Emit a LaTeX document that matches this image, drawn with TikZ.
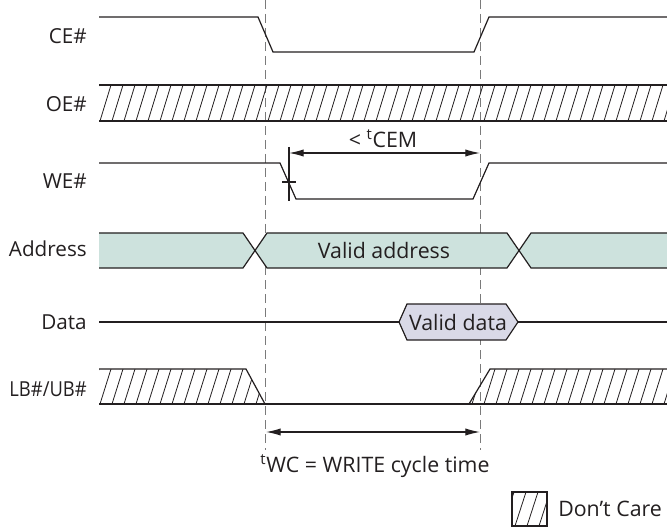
\documentclass[tikz,border=0pt]{standalone}
\usepackage{fontspec}
\usepackage{graphicx}
\setmainfont{Open Sans}
\usetikzlibrary{arrows.meta}
\definecolor{ink}{HTML}{231F20}
\definecolor{addrfill}{HTML}{CDE2DD}
\definecolor{datafill}{HTML}{D9D9E7}
\definecolor{dashc}{HTML}{7A7A7A}
\begin{document}
\begin{tikzpicture}[x=0.75pt,y=-0.75pt,
  sig/.style={draw=ink, line width=0.9pt, line join=miter},
  hatchline/.style={draw=ink, line width=0.6pt},
  guide/.style={draw=dashc, line width=0.75pt, dash pattern=on 6.5pt off 4pt},
  lbl/.style={text=ink, font=\fontsize{15.5}{18}\selectfont, anchor=east, inner sep=0pt},
  txt/.style={text=ink, font=\fontsize{16}{18}\selectfont, inner sep=0pt},
  dim/.style={draw=ink, line width=0.9pt, {Latex[length=11pt,width=5.5pt]}-{Latex[length=11pt,width=5.5pt]}}]
\useasboundingbox (0,0) rectangle (667,527);

% guide lines
\coordinate (g1t) at (265,0);
\coordinate (g1b) at (265,450);
\coordinate (g2t) at (480,0);
\coordinate (g2b) at (480,450);
\draw[guide] (g1t) -- (g1b);
\draw[guide] (g2t) -- (g2b);

% labels
\node[lbl] (lce) at (87,36) {CE\#};
\node[lbl] (loe) at (87,104) {OE\#};
\node[lbl] (lwe) at (87,181) {WE\#};
\node[lbl] (lad) at (87,249) {Address};
\node[lbl] (lda) at (87,322) {Data};
\node[lbl] (llb) at (87,389) {\resizebox{58pt}{\height}{LB\#/UB\#}};

% CE#
\draw[sig] (99,17) -- (258,17) -- (273,52) -- (474,52) -- (489,17) -- (667,17);

% OE# hatch band
\begin{scope}
  \clip (99,85) rectangle (667,121);
  \foreach \i in {0,...,50} \draw[hatchline] (88+12*\i,121) -- (99+12*\i,85);
\end{scope}
\draw[sig] (99,85) -- (667,85);
\draw[sig] (99,121) -- (667,121);

% WE#
\draw[sig] (99,163) -- (280,163) -- (296,199) -- (473,199) -- (489,163) -- (667,163);

% tCEM
\coordinate (cemL) at (289,153);
\coordinate (cemR) at (480,153);
\draw[sig] (289,147) -- (289,201);
\draw[sig] (282,182) -- (296,182);
\draw[dim] (cemL) -- (cemR);
\node[txt] (lcem) at (383,139) {< \textsuperscript{t}CEM};

% Address
\fill[addrfill] (99,233) -- (243,233) -- (255,250.5) -- (243,268) -- (99,268) -- cycle;
\draw[sig] (99,233) -- (243,233) -- (255,250.5) -- (243,268) -- (99,268);
\filldraw[sig, fill=addrfill] (255,250.5) -- (267,233) -- (507,233) -- (519,250.5) -- (507,268) -- (267,268) -- cycle;
\fill[addrfill] (519,250.5) -- (531,233) -- (667,233) -- (667,268) -- (531,268) -- cycle;
\draw[sig] (667,233) -- (531,233) -- (519,250.5) -- (531,268) -- (667,268);
\node[txt] (vaddr) at (384,250) {Valid address};

% Data
\draw[sig] (99,322) -- (399,322);
\filldraw[sig, fill=datafill] (399,322) -- (407,304) -- (506,304) -- (518,322) -- (506,340) -- (407,340) -- cycle;
\draw[sig] (518,322) -- (667,322);
\node[txt] (vdata) at (458,322) {Valid data};

% LB#/UB#
\begin{scope}
  \clip (99,369) -- (246,369) -- (265,404) -- (99,404) -- cycle;
  \foreach \i in {0,...,15} \draw[hatchline] (88+12*\i,404) -- (99+12*\i,369);
\end{scope}
\begin{scope}
  \clip (469,404) -- (490,369) -- (667,369) -- (667,404) -- cycle;
  \foreach \i in {0,...,20} \draw[hatchline] (460+12*\i,404) -- (471+12*\i,369);
\end{scope}
\draw[sig] (99,369) -- (246,369) -- (265,404);
\draw[sig] (469,404) -- (490,369) -- (667,369);
\draw[sig] (99,404) -- (667,404);

% tWC
\coordinate (wcL) at (266,432);
\coordinate (wcR) at (480,432);
\draw[dim] (wcL) -- (wcR);
\node[txt] (lwc) at (375,466) {\textsuperscript{t}WC = WRITE cycle time};

% legend
\begin{scope}
  \clip (512,492) rectangle (547,526);
  \foreach \i in {0,...,4} \draw[hatchline] (503+12*\i,526) -- (514+12*\i,492);
\end{scope}
\draw[sig] (512,492) rectangle (547,526);
\node[txt, anchor=west] (ldc) at (558,509) {Don’t Care};
\end{tikzpicture}
\end{document}
